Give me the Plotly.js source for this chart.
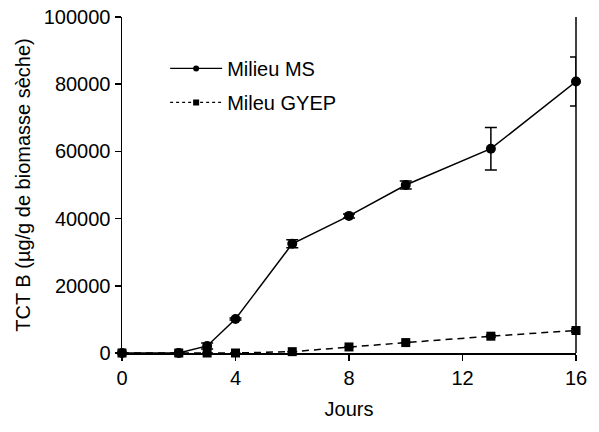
<!DOCTYPE html>
<html>
<head>
<meta charset="utf-8">
<script src="https://cdn.plot.ly/plotly-3.0.1.min.js"></script>
<style>html,body{margin:0;padding:0;background:#fff;}#chart{width:599px;height:432px;}</style>
</head>
<body>
<div id="chart"></div>
<script>
var days = [0, 2, 3, 4, 6, 8, 10, 13, 16];
var msValues = [0, 0, 2100, 10100, 32500, 40800, 50000, 60800, 80800];
var msErrors = [0, 0, 900, 300, 1200, 600, 1200, 6300, 7300];
var gyepValues = [0, 0, 0, 0, 400, 1800, 3100, 5000, 6700];
var gyepErrors = [0, 0, 0, 0, 0, 0, 0, 300, 500];
var xTicks = [0, 4, 8, 12, 16];
var yTicks = [0, 20000, 40000, 60000, 80000, 100000];
var seriesNames = ['Milieu MS', 'Mileu GYEP'];

var font = {family: 'Liberation Sans, Arial, sans-serif', size: 20, color: '#000'};

var traces = [
  {
    x: days, y: msValues, name: seriesNames[0], type: 'scatter', mode: 'lines+markers',
    line: {color: '#000', width: 1.5},
    marker: {symbol: 'circle', size: 10, color: '#000'},
    error_y: {type: 'data', array: msErrors, visible: true, color: '#000', thickness: 1.5, width: 6},
    cliponaxis: false, showlegend: false
  },
  {
    x: days, y: gyepValues, name: seriesNames[1], type: 'scatter', mode: 'lines+markers',
    line: {color: '#000', width: 1.5, dash: '7px,5px'},
    marker: {symbol: 'square', size: 9, color: '#000'},
    error_y: {type: 'data', array: gyepErrors, visible: true, color: '#000', thickness: 1.5, width: 5},
    cliponaxis: false, showlegend: false
  },
  {
    x: [null], y: [null], name: seriesNames[0], type: 'scatter', mode: 'lines+markers',
    line: {color: '#000', width: 1.3}, marker: {symbol: 'circle', size: 6, color: '#000'},
    legendgroup: 'a', showlegend: true
  },
  {
    x: [null], y: [null], name: seriesNames[1], type: 'scatter', mode: 'lines+markers',
    line: {color: '#000', width: 1.3, dash: '3px,3px'}, marker: {symbol: 'square', size: 6, color: '#000'},
    legendgroup: 'b', showlegend: true
  }
];

var layout = {
  width: 599, height: 432,
  margin: {l: 122, r: 23, t: 17, b: 79},
  paper_bgcolor: '#fff', plot_bgcolor: '#fff',
  font: font,
  showlegend: true,
  legend: {x: 0.095, y: 0.905, xanchor: 'left', yanchor: 'top', bgcolor: 'rgba(0,0,0,0)', font: font,
           traceorder: 'grouped', tracegroupgap: 5, itemwidth: 52},
  xaxis: {
    range: [0, 16], tickvals: xTicks, ticktext: xTicks.map(String),
    showgrid: false, zeroline: false, showline: true, linecolor: '#000', linewidth: 1.5,
    ticks: 'outside', ticklen: 6, tickcolor: '#000', tickwidth: 1.5,
    tickfont: font,
    title: {text: 'Jours', font: font, standoff: 14}
  },
  yaxis: {
    range: [0, 100000], tickvals: yTicks, ticktext: yTicks.map(String),
    showgrid: false, zeroline: false, showline: true, linecolor: '#000', linewidth: 1.5,
    ticks: 'outside', ticklen: 6, tickcolor: '#000', tickwidth: 1.5,
    tickfont: font,
    title: {text: 'TCT B (µg/g de biomasse sèche)', font: font, standoff: 8}
  },
  shapes: [
    {type: 'line', xref: 'paper', yref: 'paper', x0: 1, x1: 1, y0: 0, y1: 1, line: {color: '#000', width: 1.5}}
  ]
};

Plotly.newPlot('chart', traces, layout, {displayModeBar: false, staticPlot: true});
</script>
</body>
</html>
